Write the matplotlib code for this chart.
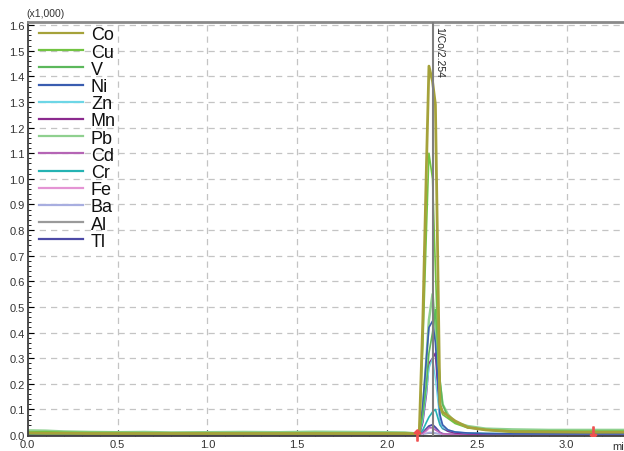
import numpy as np
import matplotlib.pyplot as plt
from matplotlib.lines import Line2D
from matplotlib.ticker import MultipleLocator

# retention time (min) and intensities (x1,000)
time_min = [0.0, 0.1, 0.2, 0.35, 0.5, 0.65, 0.8, 1.0, 1.2, 1.4, 1.6, 1.8, 2.0, 2.1,
            2.18, 2.2, 2.22, 2.234, 2.254, 2.27, 2.295, 2.31, 2.34, 2.38, 2.45, 2.55,
            2.7, 2.9, 3.1, 3.3, 3.35]

co = [0.008, 0.007, 0.007, 0.006, 0.006, 0.006, 0.006, 0.006, 0.006, 0.006, 0.006, 0.006, 0.006, 0.006,
      0.004, 0.45, 1.05, 1.44, 1.38, 1.29, 0.12, 0.09, 0.075, 0.055, 0.03, 0.02,
      0.013, 0.012, 0.011, 0.011, 0.011]
cu = [0.012, 0.013, 0.011, 0.010, 0.010, 0.009, 0.009, 0.009, 0.008, 0.009, 0.009, 0.008, 0.008, 0.008,
      0.004, 0.35, 0.80, 1.10, 1.00, 0.65, 0.11, 0.08, 0.065, 0.045, 0.028, 0.022,
      0.016, 0.016, 0.015, 0.015, 0.015]
v = [0.005, 0.005, 0.005, 0.005, 0.005, 0.005, 0.005, 0.005, 0.005, 0.005, 0.005, 0.005, 0.005, 0.005,
     0.003, 0.08, 0.20, 0.32, 0.40, 0.49, 0.22, 0.12, 0.07, 0.05, 0.03, 0.02,
     0.012, 0.012, 0.012, 0.012, 0.012]
ni = [0.003, 0.003, 0.003, 0.003, 0.003, 0.003, 0.003, 0.003, 0.003, 0.003, 0.003, 0.003, 0.003, 0.003,
      0.002, 0.12, 0.30, 0.42, 0.445, 0.36, 0.08, 0.04, 0.02, 0.012, 0.008, 0.006,
      0.005, 0.005, 0.005, 0.005, 0.005]
zn = [0.004, 0.004, 0.004, 0.004, 0.004, 0.004, 0.004, 0.004, 0.004, 0.004, 0.004, 0.004, 0.004, 0.004,
      0.002, 0.06, 0.17, 0.26, 0.30, 0.22, 0.06, 0.03, 0.02, 0.012, 0.008, 0.006,
      0.005, 0.005, 0.005, 0.005, 0.005]
mn = [0.002, 0.002, 0.002, 0.002, 0.002, 0.002, 0.002, 0.002, 0.002, 0.002, 0.002, 0.002, 0.002, 0.002,
      0.001, 0.05, 0.16, 0.28, 0.30, 0.32, 0.06, 0.03, 0.015, 0.008, 0.005, 0.004,
      0.003, 0.003, 0.003, 0.003, 0.003]
pb = [0.018, 0.017, 0.014, 0.012, 0.011, 0.012, 0.010, 0.011, 0.012, 0.011, 0.013, 0.012, 0.011, 0.010,
      0.005, 0.10, 0.30, 0.45, 0.55, 0.42, 0.20, 0.12, 0.08, 0.05, 0.035, 0.025,
      0.022, 0.020, 0.020, 0.020, 0.020]
cd = [0.002, 0.002, 0.002, 0.002, 0.002, 0.002, 0.002, 0.002, 0.002, 0.002, 0.002, 0.002, 0.002, 0.002,
      0.001, 0.008, 0.02, 0.03, 0.028, 0.02, 0.01, 0.005, 0.004, 0.003, 0.003, 0.003,
      0.002, 0.002, 0.002, 0.002, 0.002]
cr = [0.003, 0.003, 0.003, 0.003, 0.003, 0.003, 0.003, 0.003, 0.003, 0.003, 0.003, 0.003, 0.003, 0.003,
      0.002, 0.02, 0.05, 0.07, 0.09, 0.10, 0.04, 0.025, 0.015, 0.01, 0.007, 0.006,
      0.005, 0.005, 0.005, 0.005, 0.005]
fe = [0.001, 0.001, 0.001, 0.001, 0.001, 0.001, 0.001, 0.001, 0.001, 0.001, 0.001, 0.001, 0.001, 0.001,
      0.001, 0.005, 0.015, 0.025, 0.03, 0.02, 0.008, 0.004, 0.003, 0.002, 0.002, 0.002,
      0.001, 0.001, 0.001, 0.001, 0.001]
ba = [0.002, 0.002, 0.002, 0.002, 0.002, 0.002, 0.002, 0.002, 0.002, 0.002, 0.002, 0.002, 0.002, 0.002,
      0.002, 0.004, 0.007, 0.01, 0.01, 0.008, 0.004, 0.003, 0.002, 0.002, 0.002, 0.002,
      0.002, 0.002, 0.002, 0.002, 0.002]
al = [0.004, 0.004, 0.004, 0.004, 0.004, 0.004, 0.004, 0.004, 0.004, 0.004, 0.004, 0.004, 0.004, 0.004,
      0.004, 0.005, 0.006, 0.007, 0.007, 0.006, 0.005, 0.004, 0.004, 0.004, 0.004, 0.004,
      0.004, 0.004, 0.004, 0.004, 0.004]
tl = [0.001, 0.001, 0.001, 0.001, 0.001, 0.001, 0.001, 0.001, 0.001, 0.001, 0.001, 0.001, 0.001, 0.001,
      0.001, 0.01, 0.025, 0.035, 0.04, 0.03, 0.01, 0.005, 0.003, 0.002, 0.002, 0.002,
      0.001, 0.001, 0.001, 0.001, 0.001]

elements = ["Co", "Cu", "V", "Ni", "Zn", "Mn", "Pb", "Cd", "Cr", "Fe", "Ba", "Al", "Tl"]
series = [co, cu, v, ni, zn, mn, pb, cd, cr, fe, ba, al, tl]
colors = ["#a5a23a", "#72c442", "#5cb85c", "#3a5db0", "#6dd6e6", "#8b2a8e", "#8fd08f",
          "#b565b5", "#25b3b3", "#e494d4", "#a8aee0", "#9a9a9a", "#4c4aa6"]
widths = [2.0, 1.2, 1.2, 1.2, 1.0, 1.2, 1.8, 1.0, 1.2, 1.0, 1.2, 1.0, 1.4]

peak_time = 2.254
peak_label = "1/Co/2.254"
marker_start = 2.17
marker_end = 3.147

plt.rcParams['font.family'] = ['Liberation Sans', 'DejaVu Sans']

W, H = 624, 452
fig = plt.figure(figsize=(W / 100, H / 100), dpi=100)
ax = fig.add_axes([0.0444, 0.033, 0.9556, 0.916])

for i in reversed(range(len(elements))):
    ax.plot(time_min, series[i], color=colors[i], lw=widths[i], label=elements[i])

ax.axvline(peak_time, color="#7f7f7f", lw=1.5, zorder=5)
ax.text(peak_time + 0.012, 1.597, peak_label, rotation=-90, va="top", ha="left",
        fontsize=7.5, color="#222222")

ax.plot([marker_start], [0.0], marker=r"$\uparrow$", color="#f05050", ms=8, clip_on=False, zorder=6)
ax.plot([marker_end], [0.012], marker=r"$\downarrow$", color="#f05050", ms=8, zorder=6)

ax.set_xlim(0, 3.32)
ax.set_ylim(-0.004, 1.612)
ax.xaxis.set_major_locator(MultipleLocator(0.5))
ax.xaxis.set_minor_locator(MultipleLocator(0.1))
ax.yaxis.set_minor_locator(MultipleLocator(0.02))
ax.set_yticks(np.arange(0, 1.61, 0.1))
ax.set_yticklabels([f"{y:.1f}" for y in np.arange(0, 1.61, 0.1)])
ax.tick_params(axis="both", which="major", labelsize=8, labelcolor="#333333",
               direction="in", length=4, width=0.8, pad=2)
ax.tick_params(axis="both", which="minor", direction="in", length=2, width=0.6)
ax.grid(True, which="major", color="#c4c4c4", linestyle=(0, (5, 4)), lw=0.9)

ax.spines["right"].set_visible(False)
ax.spines["top"].set_color("#8a8a8a")
ax.spines["top"].set_linewidth(2)
ax.spines["left"].set_color("#404040")
ax.spines["left"].set_linewidth(1.3)
ax.spines["bottom"].set_color("#404040")
ax.spines["bottom"].set_linewidth(1.3)

fig.text(0.042, 0.958, "(x1,000)", fontsize=7.5, color="#333333", ha="left", va="bottom")
fig.text(0.982, 0.0, "min", fontsize=8, color="#333333", ha="left", va="bottom")

# legend drawn row by row, top-left inside the plot
row_top, row_step = 34, 17.2
for i, name in enumerate(elements):
    yf = 1 - (row_top + i * row_step) / H
    fig.add_artist(Line2D([39 / W, 83 / W], [yf, yf], color=colors[i], lw=1.6,
                          transform=fig.transFigure))
    fig.text(91 / W, yf, name, fontsize=13, color="#111111", ha="left", va="center_baseline")

fig.savefig("out.png", dpi=100)
